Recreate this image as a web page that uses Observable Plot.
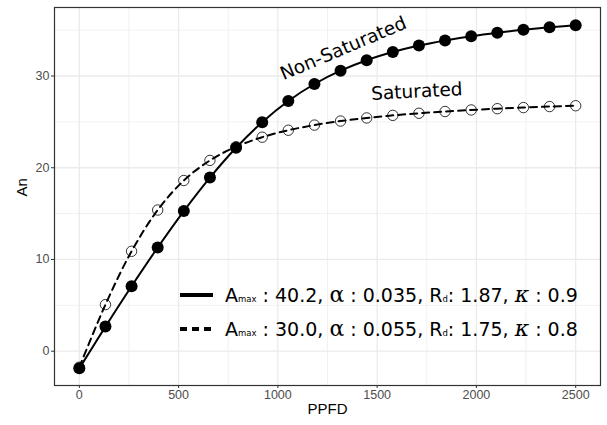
<!DOCTYPE html>
<html><head><meta charset="utf-8">
<script src="https://cdn.jsdelivr.net/npm/d3@7"></script>
<script src="https://cdn.jsdelivr.net/npm/@observablehq/plot@0.6"></script>
<style>body{margin:0;background:#fff}</style>
</head><body><div id="chart"></div>
<script>
const ppfd = [0, 131.6, 263.2, 394.7, 526.3, 657.9, 789.5, 921.1, 1052.6, 1184.2, 1315.8, 1447.4, 1578.9, 1710.5, 1842.1, 1973.7, 2105.3, 2236.8, 2368.4, 2500];
const anNonSat = [-1.87, 2.68, 7.08, 11.30, 15.28, 18.93, 22.18, 24.97, 27.28, 29.13, 30.58, 31.72, 32.61, 33.32, 33.88, 34.34, 34.72, 35.04, 35.31, 35.54];
const anSat = [-1.75, 5.08, 10.89, 15.39, 18.61, 20.80, 22.29, 23.33, 24.09, 24.65, 25.09, 25.43, 25.71, 25.94, 26.13, 26.30, 26.44, 26.56, 26.67, 26.76];
const xTicks = [0, 500, 1000, 1500, 2000, 2500];
const xMinor = [250, 750, 1250, 1750, 2250];
const yTicks = [0, 10, 20, 30];
const yMinor = [5, 15, 25, 35];
const curveLabels = [
  {label: "Non-Saturated", x: 1330, y: 33.0, rotate: -23},
  {label: "Saturated", x: 1700, y: 28.3, rotate: -3}
];
const legendRows = [
  {amax: "40.2", alpha: "0.035", rd: "1.87", kappa: "0.9", dash: null},
  {amax: "30.0", alpha: "0.055", rd: "1.75", kappa: "0.8", dash: "7,5"}
];

const nonSat = ppfd.map((p, i) => ({ppfd: p, an: anNonSat[i]}));
const sat = ppfd.map((p, i) => ({ppfd: p, an: anSat[i]}));

const plot = Plot.plot({
  width: 607, height: 425,
  marginLeft: 54, marginRight: 7, marginTop: 7, marginBottom: 40,
  style: {background: "#fff", fontFamily: "Liberation Sans, Arial, sans-serif"},
  x: {domain: [-125, 2625]},
  y: {domain: [-3.74, 37.47]},
  marks: [
    Plot.gridX(xMinor, {stroke: "#ebebeb", strokeOpacity: 1, strokeWidth: 0.7}),
    Plot.gridY(yMinor, {stroke: "#ebebeb", strokeOpacity: 1, strokeWidth: 0.7}),
    Plot.gridX(xTicks, {stroke: "#ebebeb", strokeOpacity: 1, strokeWidth: 1.3}),
    Plot.gridY(yTicks, {stroke: "#ebebeb", strokeOpacity: 1, strokeWidth: 1.3}),
    Plot.axisX(xTicks, {tickSize: 3, tickPadding: 2, stroke: "#333", fill: "#4d4d4d", fontSize: 12.5, label: null, tickFormat: d => String(d)}),
    Plot.axisY(yTicks, {tickSize: 3, tickPadding: 2, stroke: "#333", fill: "#4d4d4d", fontSize: 12.5, label: null, tickFormat: d => String(d)}),
    Plot.text(["PPFD"], {frameAnchor: "bottom", dy: 28, fontSize: 15, fill: "#000"}),
    Plot.text(["An"], {frameAnchor: "left", dx: -32, rotate: -90, fontSize: 15, fill: "#000"}),
    Plot.dot(sat, {x: "ppfd", y: "an", r: 5.2, fill: "#fff", stroke: "#000", strokeWidth: 0.8}),
    Plot.dot(nonSat, {x: "ppfd", y: "an", r: 6, fill: "#000", stroke: "none"}),
    Plot.line(sat, {x: "ppfd", y: "an", stroke: "#000", strokeWidth: 2, strokeDasharray: "7,5", curve: "catmull-rom"}),
    Plot.line(nonSat, {x: "ppfd", y: "an", stroke: "#000", strokeWidth: 2, curve: "catmull-rom"}),
    Plot.text(curveLabels, {x: "x", y: "y", text: "label", rotate: "rotate", fontSize: 18.5, fill: "#000", fontFamily: "DejaVu Sans"}),
    Plot.frame({stroke: "#333", strokeWidth: 1.2})
  ]
});

// legend inside panel
const svg = d3.select(plot);
const lg = svg.append("g").attr("font-family", "DejaVu Sans").attr("font-size", 19)
  .attr("fill", "#000").attr("text-anchor", "start");
legendRows.forEach((r, i) => {
  const cy = 295 + i * 34;
  lg.append("line").attr("x1", 180).attr("x2", 213).attr("y1", cy).attr("y2", cy)
    .attr("stroke", "#000").attr("stroke-width", 4)
    .attr("stroke-dasharray", r.dash);
  const t = lg.append("text").attr("x", 225).attr("y", cy).attr("dy", "0.35em");
  t.append("tspan").text("A");
  t.append("tspan").attr("font-size", 8.5).text("max");
  t.append("tspan").text(" : " + r.amax + ", ");
  t.append("tspan").attr("font-family", "DejaVu Serif").attr("font-size", 22).text("α");
  t.append("tspan").text(" : " + r.alpha + ", R");
  t.append("tspan").attr("font-size", 8.5).text("d");
  t.append("tspan").text(": " + r.rd + ", ");
  t.append("tspan").attr("font-family", "DejaVu Serif").attr("font-style", "italic").attr("font-size", 22).text("κ");
  t.append("tspan").text(" : " + r.kappa);
});

document.getElementById("chart").appendChild(plot);
</script></body></html>
